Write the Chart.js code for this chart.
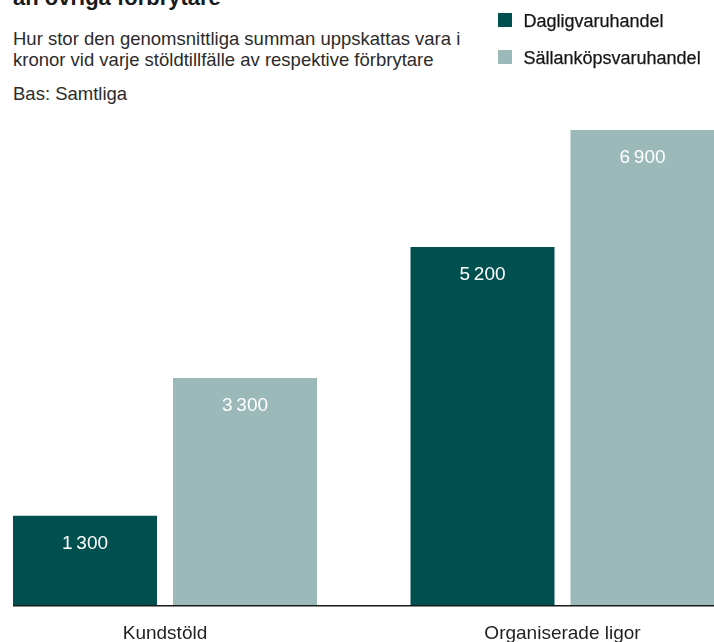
<!DOCTYPE html>
<html lang="sv">
<head>
<meta charset="utf-8">
<title>Stöldsumma per tillfälle</title>
<script src="https://cdn.jsdelivr.net/npm/chart.js@4"></script>
<style>
  html, body { margin: 0; padding: 0; background: #fff; overflow: hidden; }
  body { width: 714px; height: 642px; position: relative; font-family: "Liberation Sans", Arial, sans-serif; }
  .title { position: absolute; left: 13px; top: -12.6px; font-size: 22px; line-height: 22px; font-weight: bold; color: #1a1a1a; white-space: nowrap; }
  .sub { position: absolute; left: 13px; font-size: 18.5px; line-height: 21px; color: #2b2b2b; white-space: nowrap; }
  #legend { position: absolute; left: 498px; top: 13px; }
  .item { position: relative; height: 37px; }
  .box { position: absolute; left: 0; top: 0; width: 14px; height: 14px; }
  .lbl { position: absolute; left: 25.5px; top: -2px; font-size: 18px; line-height: 20px; color: #161616; white-space: nowrap; -webkit-text-stroke: 0.25px #161616; }
  #wrap { position: absolute; left: 0; top: 0; width: 714px; height: 664px; }
</style>
</head>
<body>
<div class="title">än övriga förbrytare</div>
<div class="sub" style="top:28px">Hur stor den genomsnittliga summan uppskattas vara i<br>kronor vid varje stöldtillfälle av respektive förbrytare</div>
<div class="sub" style="top:83px">Bas: Samtliga</div>
<div id="wrap"><canvas id="myChart"></canvas></div>
<div id="legend"></div>

<script>
const categories = ['Kundstöld', 'Organiserade ligor']
const seriesLabels = ['Dagligvaruhandel', 'Sällanköpsvaruhandel']
const dagligvaruhandel = [1300, 5200]
const sallankopsvaruhandel = [3300, 6900]

const canvas = document.getElementById('myChart')

// tal med mellanrum som tusentalsavgränsare, t.ex. 6 900
function formatNumber(v) {
    return String(v).replace(/\B(?=(\d{3})+(?!\d))/g, '\u2009')
}

// värdena skrivs inne i staplarna, nära toppen
const valueLabels = {
    id: 'valueLabels',
    afterDatasetsDraw(chart) {
        const ctx = chart.ctx
        ctx.save()
        ctx.fillStyle = '#ffffff'
        ctx.font = '19px "Liberation Sans", Arial, sans-serif'
        ctx.textAlign = 'center'
        ctx.textBaseline = 'alphabetic'
        chart.data.datasets.forEach((ds, i) => {
            chart.getDatasetMeta(i).data.forEach((bar, j) => {
                ctx.fillText(formatNumber(ds.data[j]), bar.x, bar.y + 33.5)
            })
        })
        ctx.restore()
    }
}

// baslinje från första stapelns vänsterkant till högerkanten
const baseLine = {
    id: 'baseLine',
    afterDatasetsDraw(chart) {
        const first = chart.getDatasetMeta(0).data[0]
        if (!first) return
        const y = chart.scales.y.getPixelForValue(0) + 0.5
        const ctx = chart.ctx
        ctx.save()
        ctx.strokeStyle = '#1a1a1a'
        ctx.lineWidth = 1.5
        ctx.beginPath()
        ctx.moveTo(first.x - first.width / 2, y)
        ctx.lineTo(chart.width, y)
        ctx.stroke()
        ctx.restore()
    }
}

const config = {
    type: 'bar',
    data: {
        labels: categories,
        datasets: [{
            label: seriesLabels[0],
            data: dagligvaruhandel,
            backgroundColor: 'rgb(0, 80, 80)',
            clip: false
        }, {
            label: seriesLabels[1],
            data: sallankopsvaruhandel,
            backgroundColor: 'rgb(155, 185, 184)',
            clip: false
        }]
    },
    options: {
        responsive: true,
        maintainAspectRatio: false,
        animation: false,
        categoryPercentage: 0.805,
        barPercentage: 0.9,
        layout: {
            padding: { top: 123, left: 165, right: 151.5, bottom: 2 }
        },
        plugins: {
            legend: { display: false },
            tooltip: { enabled: false }
        },
        scales: {
            x: {
                offset: false,
                grid: { display: false, drawTicks: false },
                border: { display: false },
                ticks: {
                    color: '#1f1f1f',
                    padding: 17,
                    maxRotation: 0,
                    font: { family: '"Liberation Sans", Arial, sans-serif', size: 19 }
                }
            },
            y: {
                display: false,
                min: 0,
                max: 7000
            }
        }
    },
    plugins: [valueLabels, baseLine]
}

const myChart = new Chart(canvas, config)

// egen förklaring uppe till höger
const legend = document.getElementById('legend')
myChart.data.datasets.forEach(ds => {
    const item = document.createElement('div')
    item.className = 'item'
    item.innerHTML = `<span class="box" style="background:${ds.backgroundColor}"></span><span class="lbl">${ds.label}</span>`
    legend.appendChild(item)
})
</script>
</body>
</html>
